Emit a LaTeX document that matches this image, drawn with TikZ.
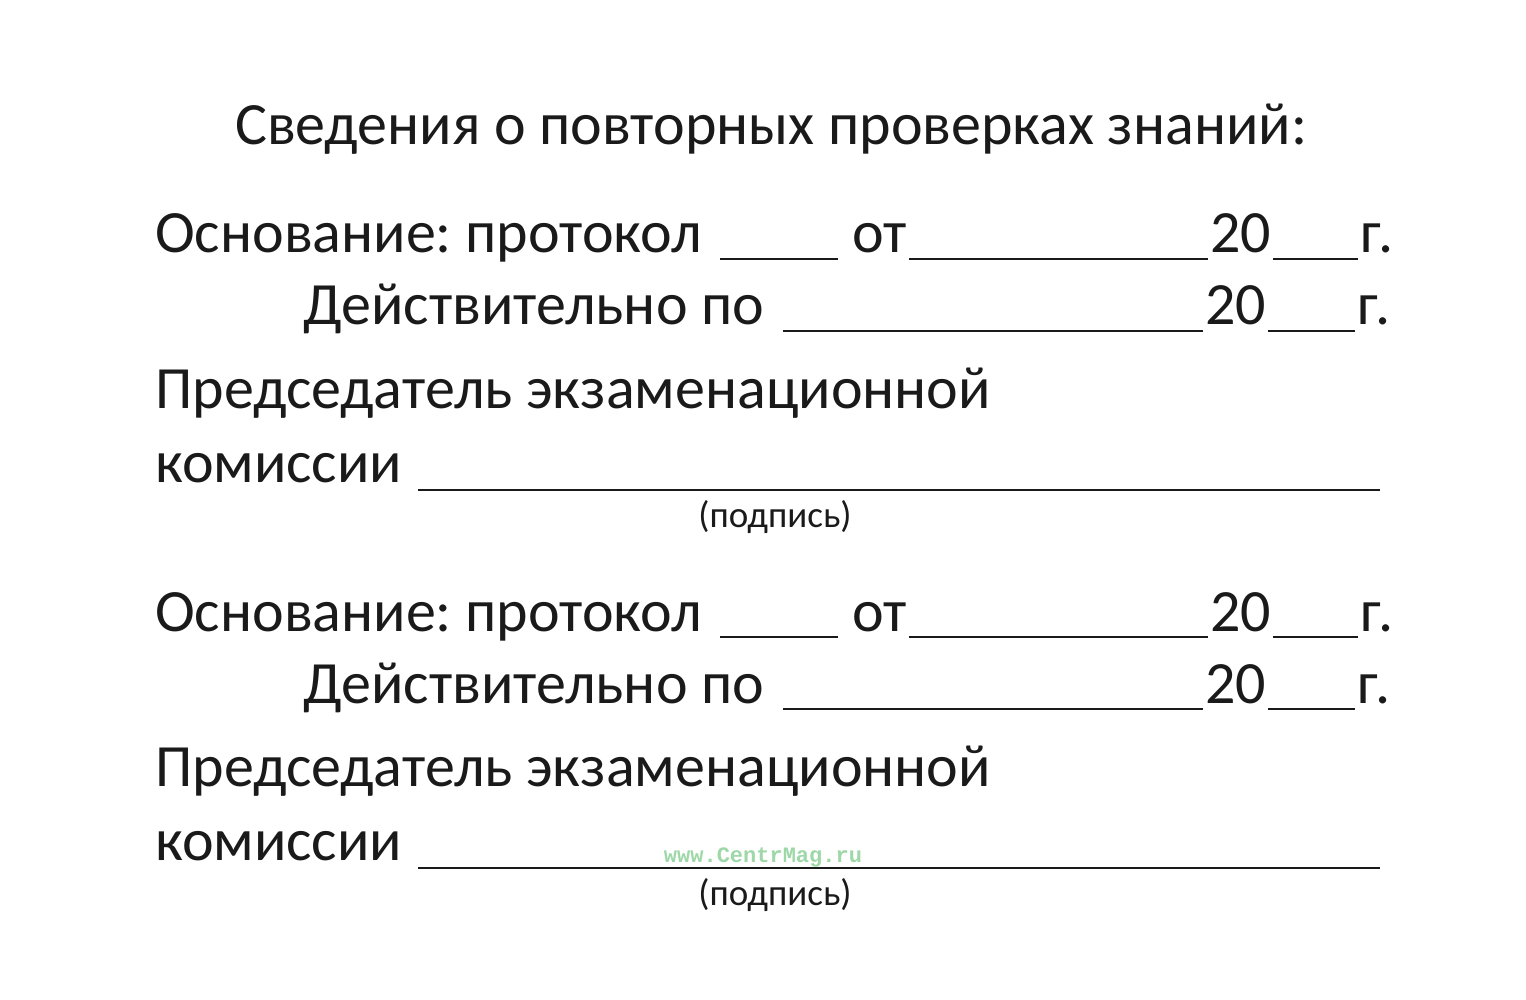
\documentclass[tikz,border=0pt]{standalone}
\usepackage{fontspec}
\setmainfont{Carlito}
\newfontfamily\wmfont{Liberation Mono}
\definecolor{ink}{HTML}{1A1A1A}
\definecolor{wmgreen}{HTML}{9ED8A8}
\frenchspacing
\begin{document}
\begin{tikzpicture}[x=1pt,y=-1pt,
    txt/.style={anchor=base west,inner sep=0pt,text=ink,font=\fontsize{60}{72}\selectfont},
    small/.style={anchor=base,inner sep=0pt,text=ink,font=\fontsize{37}{44}\selectfont},
    blank/.style={draw=ink,line width=2.8pt}]
    \useasboundingbox[fill=white] (0,0) rectangle (1526,1000);
    \node[anchor=base,inner sep=0pt,text=ink,font=\fontsize{60}{72}\selectfont] (title) at (771,145) {Сведения о повторных проверках знаний:};
    \foreach \b/\dy in {1/0,2/378}{
        % основание
        \node[txt] (osn\b) at (155,253+\dy) {Основание: протокол};
        \node[txt] (ot\b) at (852,253+\dy) {от};
        \node[txt] (yra\b) at (1210,253+\dy) {20};
        \node[txt] (ga\b) at (1360,253+\dy) {г.};
        \draw[blank] (720,259+\dy) -- (838,259+\dy);
        \draw[blank] (ot\b.base east) ++(2,6) -- ([yshift=-6pt,xshift=-2pt]yra\b.base west);
        \draw[blank] (yra\b.base east) ++(2,6) -- ([yshift=-6pt,xshift=-2pt]ga\b.base west);
        % действительно
        \node[txt] (dey\b) at (303,325+\dy) {Действительно по};
        \node[txt] (yrb\b) at (1205,325+\dy) {20};
        \node[txt] (gb\b) at (1357,325+\dy) {г.};
        \draw[blank] (783,331+\dy) -- ([yshift=-6pt,xshift=-2pt]yrb\b.base west);
        \draw[blank] (yrb\b.base east) ++(2,6) -- ([yshift=-6pt,xshift=-2pt]gb\b.base west);
        % председатель
        \node[txt] (pred\b) at (155,408+\dy) {Председатель экзаменационной};
        \node[txt] (kom\b) at (155,482+\dy) {комиссии};
        \draw[blank] (418,490+\dy) -- (1380,490+\dy);
        \node[small] (podp\b) at (775,527+\dy) {(подпись)};
    }
    \node[inner sep=0pt,text=wmgreen,font=\wmfont\bfseries\fontsize{22}{26}\selectfont] (wm) at (763,857) {www.CentrMag.ru};
\end{tikzpicture}
\end{document}
